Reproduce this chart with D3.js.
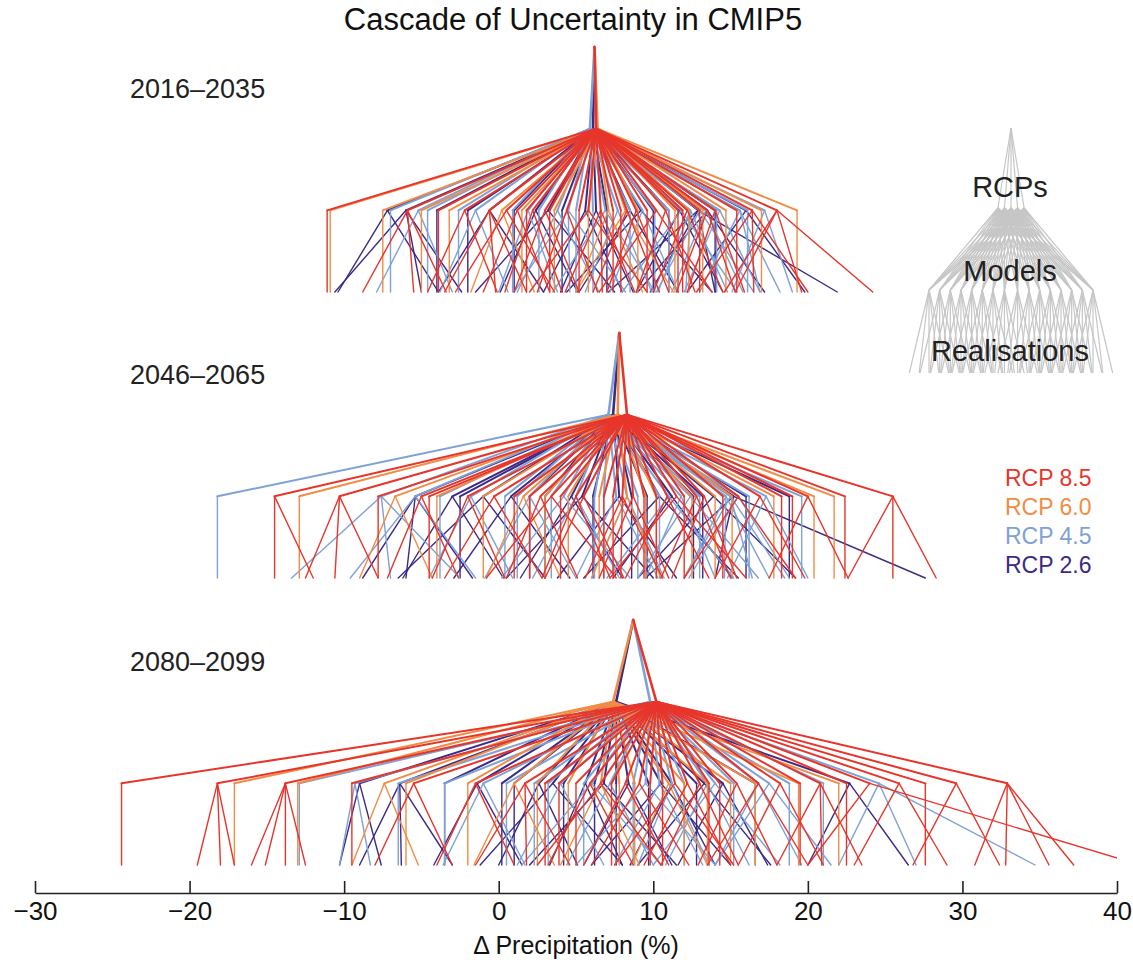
<!DOCTYPE html>
<html lang="en">
<head>
<meta charset="UTF-8">
<title>Cascade of Uncertainty in CMIP5</title>
<script src="https://cdn.jsdelivr.net/npm/d3@7"></script>
<style>
body { margin: 0; background: #fff; }
svg { display: block; font-family: "Liberation Sans", Arial, Helvetica, sans-serif; }
</style>
</head>
<body>
<script>
// periods and scenario names
const periods = ["2016–2035", "2046–2065", "2080–2099"];
const rcpNames = ["RCP 8.5", "RCP 6.0", "RCP 4.5", "RCP 2.6"];
const rcpColors = ["#e8352b", "#f28c45", "#7ea1d6", "#3b2a86"];
const xTicks = [-30, -20, -10, 0, 10, 20, 30, 40];

// multi-scenario mean for each period (%)
const allMean = [6.2, 7.8, 8.7];
// scenario means per period, order 8.5, 6.0, 4.5, 2.6
const rcpMean = [
  [6.3, 6.4, 5.9, 6.1],
  [8.3, 7.7, 7.1, 7.4],
  [10.2, 7.4, 9.8, 7.6]
];

// models: first value = model mean, the rest = realisations (one value = one realisation)
const m85_2016 = [[-11.1], [-5.9, -8.8, -5.5, -3.4], [-3.9], [-2.2, -4.6, -0.1], [-0.6, -3.5, 1.8, -0.2],
  [0.5, -2.8, 3.6], [1.2, -1.0, 3.3], [1.8], [2.2, 0.4, 4.1], [3.0, 1.0, 5.2], [3.3], [4.4, 2.5, 6.4], [5.2],
  [5.8, 2.0, 9.6], [6.6, 4.3, 8.8, 6.7], [7.4], [7.9], [8.3, 6.1, 10.4], [8.9, 7.0, 11.0], [9.6],
  [10.2, 6.5, 13.8], [10.8, 8.9, 12.7], [11.6], [11.9], [12.2, 10.0, 14.5], [13.0], [13.5, 11.5, 15.3],
  [14.0, 12.2, 15.9], [15.4], [16.4, 12.8, 20.0, 16.5], [18.0, 14.6, 24.2, 15.3, 19.6]];
const m60_2016 = [[-10.9], [-7.5], [-5.0], [-3.2], [0.2, -1.8, 2.3], [1.5], [3.6], [5.8], [7.1, 5.0, 9.3],
  [8.2, 5.0, 11.3], [9.0], [11.4], [12.3], [13.2], [14.7], [17.0], [19.3]];
const m45_2016 = [[-7.0], [-5.2, -7.9, -3.0], [-4.6], [-2.6], [-1.5, -3.8, 0.6], [0.9], [1.9, 0.0, 3.8], [2.6],
  [3.8, 1.2, 6.5], [4.5, 1.0, 8.2, 4.6], [5.0], [6.1], [6.9, 3.5, 10.1], [7.7, 5.6, 9.9], [8.5],
  [9.3, 7.2, 11.6], [10.1], [11.0], [11.8, 8.0, 15.4], [12.4, 10.3, 14.8, 12.1], [13.0, 16.5, 10.2],
  [13.4, 15.8, 11.2], [14.1], [14.3, 16.9, 12.0], [15.6, 18.2, 13.0, 16.9], [16.1], [17.2, 19.0, 15.1]];
const m26_2016 = [[-7.2, -10.4, -3.9], [-6.0, -10.6, -2.4, -5.0], [-4.0], [-2.0], [-0.6, -3.9, 2.9], [1.0],
  [2.4, 0.1, 5.1], [3.2, -1.5, 7.5], [4.1], [5.6, 2.9, 8.0], [6.3, 4.0, 8.7], [7.0], [8.5, 5.2, 11.6],
  [9.2, 4.4, 13.8], [10.0], [11.0], [11.7, 8.9, 14.5], [12.9, 7.1, 21.9, 14.0, 9.8], [13.5, 9.0, 17.2], [14.0],
  [16.0, 12.2, 19.8]];

const m85_2046 = [[-14.5, -14.5, -12.0], [-10.3, -12.5, -7.8, -10.6], [-7.8], [-5.0, -7.2, -2.6], [-4.5],
  [-2.0, -4.3, 0.4], [-0.3, -3.5, 2.8], [1.0], [2.0], [2.7, 0.5, 5.1], [3.4, -0.8, 7.6], [4.0],
  [5.0, 2.8, 7.2], [5.5, 3.0, 8.1], [6.8], [7.4], [8.0, 5.6, 10.6, 7.9], [8.7, 6.5, 11.0], [9.4], [10.2],
  [10.9, 8.2, 13.6], [11.5, 7.2, 16.0], [12.0], [12.8, 10.5, 15.0], [13.3, 11.2, 15.4], [14.5],
  [15.5, 12.0, 19.2], [16.9, 14.0, 19.8], [18.3], [19.0], [20.0, 17.5, 22.6], [22.4], [25.5, 22.6, 28.3, 25.5]];
const m60_2046 = [[-12.9], [-6.7, -9.0, -4.3], [-4.0], [-1.0], [1.6, -0.8, 4.0], [3.0], [4.5], [6.5],
  [8.3, 6.0, 10.5], [9.5], [10.2], [12.5], [14.0], [15.1], [17.8], [20.4], [21.7]];
const m45_2046 = [[-18.2], [-7.6, -13.4, -2.5, -7.0], [-5.4, -9.6, -1.5], [-3.8], [-1.8, -4.5, 0.9], [0.4],
  [1.2], [2.0, -0.9, 5.0], [3.4], [4.2, 0.2, 8.5], [5.0, 2.2, 7.8], [6.2], [6.8], [7.6, 5.0, 10.3],
  [8.3, 6.0, 10.7], [9.0], [10.4], [11.0, 7.0, 15.2], [11.8, 9.5, 14.0], [12.4, 16.8, 9.0], [13.0],
  [14.7, 12.0, 17.5, 14.6], [15.0, 18.5, 12.0, 16.4], [15.5, 18.8, 12.3], [16.2], [17.3, 20.0, 14.8], [19.6]];
const m26_2046 = [[-5.4, -8.8, -1.7, -6.0], [-3.0, -6.2, 0.3], [-2.5], [-1.0, -6.5, 3.0], [0.8, -2.9, 4.6],
  [2.0], [3.0], [4.7, 1.4, 8.0], [5.4, 0.5, 10.0], [6.1], [7.8, 3.8, 11.5], [8.6], [9.6], [10.4, 5.5, 15.5],
  [11.2, 7.4, 15.1], [12.6], [13.2], [13.9, 9.0, 19.2], [16.0], [15.2, 27.6, 9.5, 14.0], [18.8]];

const m85_2080 = [[-24.4], [-18.2, -19.5, -17.1, -18.0], [-13.8, -16.0, -13.8, -12.5, -15.1], [-9.5],
  [-5.5, -8.0, -3.0], [-1.5, -4.0, 1.0], [1.7, -1.5, 4.6, 1.8], [3.0], [3.9], [5.0], [5.9, 3.2, 8.7],
  [6.6, 2.5, 10.5], [7.3], [8.2, 5.5, 11.0], [9.1, 6.0, 12.3], [9.8], [10.6], [11.4, 7.5, 15.2],
  [12.2, 9.4, 15.0], [13.0, 10.5, 15.5], [13.6], [14.3], [15.4, 12.9, 18.0], [16.8, 13.5, 20.0],
  [18.2, 15.5, 21.0], [19.5], [20.8, 18.0, 23.5, 20.9], [22.5], [24.0, 41.5, 20.0], [25.9, 23.0, 29.0],
  [27.6], [29.6, 26.8, 32.4], [32.9, 30.8, 35.6, 37.2, 32.8]];
const m60_2080 = [[-17.1], [-13.0], [-7.4, -9.5, -5.2], [-6.0], [-2.0], [1.0, -1.6, 3.6], [2.5], [4.5],
  [6.6, 4.0, 9.1], [7.8], [8.8], [11.0, 8.6, 13.5], [12.0], [13.5], [15.0], [16.6], [19.4], [22.0]];
const m45_2080 = [[-12.9], [-9.3, -10.3, -8.3], [-6.5], [-3.5], [-1.0, -3.6, 1.7], [0.5], [2.3], [3.2],
  [4.0, 1.2, 6.8], [5.5], [6.0, 1.5, 10.5], [7.2, 4.4, 10.0], [8.7], [9.5, 5.0, 14.0], [10.4, 7.5, 13.2],
  [11.2, 9.0, 13.6], [12.0], [13.5, 10.8, 16.2], [14.0, 10.0, 18.2], [15.2], [16.8, 14.0, 19.6],
  [17.5, 21.5, 14.0], [18.8], [24.6, 22.0, 34.7, 27.0], [21.0]];
const m26_2080 = [[-9.0, -10.3, -7.6], [-6.4, -9.0, -3.0, -6.3], [-3.5], [-1.4, -4.2, 1.5], [0.2], [1.0],
  [2.6, 0.0, 5.1], [3.5, -1.2, 8.0], [4.2], [5.6, 3.3, 8.0], [6.2], [6.8, 2.0, 11.5], [7.6], [8.4, 5.5, 11.2],
  [9.7], [10.5, 6.0, 15.0], [11.2, 8.5, 14.0], [12.8], [13.3, 9.0, 17.6], [14.5, 11.6, 17.4], [16.6],
  [22.7, 20.0, 26.5]];

const models = [
  [m85_2016, m60_2016, m45_2016, m26_2016],
  [m85_2046, m60_2046, m45_2046, m26_2046],
  [m85_2080, m60_2080, m45_2080, m26_2080]
];

// schematic key (relative units)
const keyRcps = [-0.16, -0.08, 0, 0.08, 0.16];
const keyModels = [-1, -0.87, -0.74, -0.61, -0.48, -0.35, -0.22, -0.08, 0.08, 0.22, 0.35, 0.48, 0.61, 0.74, 0.87, 1];
const keyRealOffsets = [-0.24, -0.12, 0, 0.12, 0.24];

const width = 1133, height = 966;
const svg = d3.select("body").append("svg").attr("width", width).attr("height", height);

const x = d3.scaleLinear().domain([-30, 40]).range([35, 1117]);
const panelTop = [47, 333, 620];
const level = d3.scaleLinear().domain([0, 3]).range([0, 245]);

svg.append("clipPath").attr("id", "plotclip")
  .append("rect").attr("x", 35).attr("y", 0).attr("width", 1082).attr("height", 880);

// build line segments
const segs = [];
const drawOrder = [3, 2, 1, 0];
periods.forEach((p, pi) => {
  const y0 = panelTop[pi], y1 = y0 + level(1), y2 = y0 + level(2), y3 = y0 + level(3);
  drawOrder.forEach(ri => {
    const col = rcpColors[ri];
    const rm = rcpMean[pi][ri];
    segs.push({x1: allMean[pi], y1: y0, x2: rm, y2: y1, c: col, w: 2.6});
    models[pi][ri].forEach(m => {
      segs.push({x1: rm, y1: y1, x2: m[0], y2: y2, c: col, w: 2});
      const reals = m.length === 1 ? [m[0]] : m.slice(1);
      reals.forEach(r => {
        segs.push({x1: m[0], y1: y2, x2: r, y2: y3, c: col, w: 1.4});
      });
    });
  });
});

svg.append("g").attr("clip-path", "url(#plotclip)")
  .selectAll("line").data(segs).join("line")
  .attr("x1", d => x(d.x1)).attr("y1", d => d.y1)
  .attr("x2", d => x(d.x2)).attr("y2", d => d.y2)
  .attr("stroke", d => d.c).attr("stroke-width", d => d.w)
  .attr("stroke-linecap", "round");

// period labels
svg.append("g").selectAll("text").data(periods).join("text")
  .attr("x", 130).attr("y", (d, i) => panelTop[i] + 51)
  .attr("font-size", 27).attr("fill", "#222").text(d => d);

// title
svg.append("text").attr("x", 573).attr("y", 30).attr("text-anchor", "middle")
  .attr("font-size", 31).attr("fill", "#111").text("Cascade of Uncertainty in CMIP5");

// axis
const axis = d3.axisBottom(x).tickValues(xTicks).tickSize(-12).tickSizeOuter(0).tickPadding(9)
  .tickFormat(d3.format("d"));
const gx = svg.append("g").attr("transform", "translate(0,893)").call(axis);
gx.select(".domain").attr("stroke", "#222").attr("stroke-width", 1.6);
gx.selectAll(".tick line").attr("stroke", "#222").attr("stroke-width", 1.6);
gx.selectAll(".tick text").attr("font-size", 26).attr("fill", "#111")
  .attr("font-family", "Liberation Sans, Arial, sans-serif");

svg.append("text").attr("x", 576).attr("y", 954).attr("text-anchor", "middle")
  .attr("font-size", 25).attr("fill", "#111").text("Δ Precipitation (%)");

// legend
svg.append("g").selectAll("text").data(rcpNames).join("text")
  .attr("x", 1005).attr("y", (d, i) => 486 + i * 29)
  .attr("font-size", 23).attr("fill", (d, i) => rcpColors[i]).text(d => d);

// schematic key
const kx = d3.scaleLinear().domain([-1, 1]).range([929, 1093]);
const ky = [128, 208, 290, 373];
const keySegs = [];
keyRcps.forEach(r => {
  keySegs.push([0, ky[0], r, ky[1]]);
  keyModels.forEach(m => keySegs.push([r, ky[1], m, ky[2]]));
});
keyModels.forEach(m => keyRealOffsets.forEach(o => keySegs.push([m, ky[2], m + o, ky[3]])));
const key = svg.append("g");
key.selectAll("line").data(keySegs).join("line")
  .attr("x1", d => kx(d[0])).attr("y1", d => d[1])
  .attr("x2", d => kx(d[2])).attr("y2", d => d[3])
  .attr("stroke", "#c6c6c6").attr("stroke-width", 1.2);
key.selectAll("text").data([["RCPs", 197], ["Models", 281], ["Realisations", 361]]).join("text")
  .attr("x", 1010).attr("y", d => d[1]).attr("text-anchor", "middle")
  .attr("font-size", 29).attr("fill", "#222").text(d => d[0]);
</script>
</body>
</html>
